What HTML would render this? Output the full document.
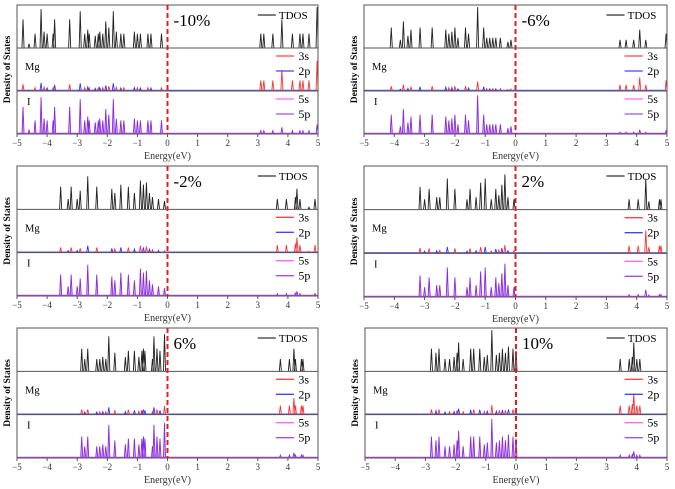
<!DOCTYPE html>
<html><head><meta charset="utf-8"><style>
body{margin:0;background:#fff}
svg{display:block;font-family:"Liberation Serif",serif}
</style></head><body>
<svg id="fig" width="675" height="489" viewBox="0 0 675 489"></svg>
<script>
// Data: [energy(eV), relative height] per strain panel (TDOS peaks)
const strainLabels = ["-10%","-6%","-2%","2%","6%","10%"];
const tdos_m10 = [[-4.8,0.7],[-4.6,0.1],[-4.4,0.35],[-4.2,0.95],[-4.1,0.4],[-4.0,0.35],[-3.8,0.35],[-3.75,0.7],[-3.25,0.7],[-2.9,0.9],[-2.75,0.35],[-2.65,0.45],[-2.6,0.35],[-2.4,0.3],[-2.3,0.35],[-2.25,0.4],[-2.15,0.35],[-2.05,0.65],[-1.95,0.5],[-1.8,0.9],[-1.7,0.4],[-1.55,0.35],[-1.45,0.35],[-1.1,0.4],[-1.0,0.35],[-0.9,0.35],[-0.65,0.35],[-0.55,0.35],[-0.2,0.35],[3.1,0.35],[3.2,0.35],[3.5,0.35],[3.8,0.7],[4.15,0.35],[4.4,0.35],[4.5,0.35],[4.7,0.35],[4.97,1.0]];
const tdos_m6 = [[-4.1,0.5],[-3.8,0.2],[-3.7,0.65],[-3.55,0.3],[-3.45,0.45],[-3.15,0.5],[-2.75,0.5],[-2.3,0.45],[-2.2,0.35],[-2.1,0.4],[-2.0,0.5],[-1.9,0.25],[-1.65,0.5],[-1.55,0.35],[-1.25,1.0],[-1.05,0.5],[-0.95,0.25],[-0.85,0.25],[-0.75,0.25],[-0.65,0.25],[-0.5,0.25],[-0.25,0.15],[-0.15,0.2],[3.45,0.2],[3.65,0.2],[3.9,0.2],[4.1,0.45],[4.3,0.2],[4.97,0.35]];
const tdos_m2 = [[-3.55,0.55],[-3.3,0.25],[-3.2,0.55],[-3.0,0.25],[-2.9,0.45],[-2.65,0.8],[-2.35,0.55],[-1.85,0.5],[-1.75,0.4],[-1.55,0.6],[-1.3,0.55],[-1.1,0.4],[-0.9,0.7],[-0.8,0.6],[-0.7,0.65],[-0.6,0.4],[-0.5,0.3],[-0.3,0.25],[-0.1,0.2],[3.65,0.25],[3.95,0.25],[4.25,0.3],[4.3,0.5],[4.4,0.25],[4.7,0.05],[4.9,0.25]];
const tdos_p2 = [[-3.15,0.55],[-3.0,0.25],[-2.85,0.5],[-2.6,0.3],[-2.5,0.3],[-2.25,0.75],[-2.0,0.5],[-1.6,0.25],[-1.5,0.5],[-1.3,0.3],[-1.15,0.65],[-1.0,0.75],[-0.8,0.25],[-0.65,0.5],[-0.55,0.35],[-0.45,0.6],[-0.35,0.85],[-0.25,0.3],[-0.05,0.25],[3.75,0.25],[4.05,0.25],[4.3,0.75],[4.4,0.2],[4.75,0.25],[4.8,0.25]];
const tdos_p6 = [[-2.85,0.55],[-2.75,0.3],[-2.65,0.55],[-2.35,0.3],[-2.25,0.3],[-2.15,0.35],[-2.05,0.3],[-1.95,0.85],[-1.75,0.45],[-1.4,0.35],[-1.3,0.5],[-1.1,0.5],[-0.95,0.35],[-0.85,0.5],[-0.8,0.55],[-0.75,0.5],[-0.5,0.3],[-0.45,0.85],[-0.35,0.55],[-0.25,0.5],[-0.1,0.9],[3.75,0.3],[4.05,0.3],[4.2,0.55],[4.25,0.3],[4.45,0.3],[4.5,0.3]];
const tdos_p10 = [[-2.8,0.55],[-2.65,0.45],[-2.55,0.55],[-2.35,0.3],[-2.2,0.3],[-2.05,0.35],[-1.95,0.45],[-1.9,0.7],[-1.75,0.3],[-1.5,0.55],[-1.4,0.55],[-1.2,0.55],[-1.05,0.35],[-0.95,0.4],[-0.8,1.0],[-0.65,0.4],[-0.55,0.45],[-0.45,0.55],[-0.35,0.45],[-0.25,0.6],[-0.1,0.55],[0.0,0.5],[3.45,0.3],[3.75,0.3],[3.85,0.35],[3.9,0.7],[4.0,0.3],[4.1,0.3]];
const xTicks = [-5,-4,-3,-2,-1,0,1,2,3,4,5];
const allTdos = [tdos_m10,tdos_m6,tdos_m2,tdos_p2,tdos_p6,tdos_p10];
const NS="http://www.w3.org/2000/svg";
const svg=document.getElementById('fig');
function el(tag,attrs,parent){const e=document.createElementNS(NS,tag);for(const k in attrs)e.setAttribute(k,attrs[k]);(parent||svg).appendChild(e);return e;}
const boxes=[[17,318,5,134],[364,667,5,134],[17,318,166,296],[364,667,166,297],[17,318,328,458],[365,667,328,458]];
function peakPath(xs,base,hgt,pk,scale,filter){
  let d="";
  pk.forEach(([e,v],k)=>{if(!filter(e,k))return;const x=xs(e),w=xs(e+0.035)-x;
    d+=`M${x-w},${base}L${x},${base-v*scale*hgt}L${x+w},${base}`;});
  return d||"M0,0";
}
boxes.forEach((b,i)=>{
  const [x0,x1,y0,y1]=b,data=allTdos[i];
  const g=el('g',{});
  
  
  const xs=e=>x0+(e+5)/10*(x1-x0);
  const h=(y1-y0)/3, b1=y0+h,b2=y0+2*h,b3=y1,w=x1-x0;
  const t=el('path',{d:peakPath(xs,b1,h,data,0.95,()=>true),stroke:'#222',fill:'none','stroke-width':0.9},g);
  
  const mb=el('line',{x1:x0,x2:x1,y1:b2-0.5,y2:b2-0.5,stroke:'#55f','stroke-width':1.4},g);
  
  const ms=el('path',{d:peakPath(xs,b2,h,data,0.22,(e,k)=>e<0.2&&k%2==0),stroke:'#f33',fill:'none','stroke-width':0.9},g);
  
  const mp=el('path',{d:peakPath(xs,b2,h,data,0.2,(e,k)=>e<0.2&&k%2==1),stroke:'#33f',fill:'none','stroke-width':0.9},g);
  
  const ms2=el('path',{d:peakPath(xs,b2,h,data,0.7,e=>e>0.5),stroke:'#f33',fill:'none','stroke-width':0.9},g);
  
  const ip=el('path',{d:peakPath(xs,b3,h,data,0.9,e=>e<0.2),stroke:'#8a2be2',fill:'#d6b8f5','stroke-width':0.9},g);
  
  const ip2=el('path',{d:peakPath(xs,b3,h,data,0.22,e=>e>0.5),stroke:'#8a2be2',fill:'none','stroke-width':0.9},g);
  
  const ib=el('line',{x1:x0,x2:x1,y1:b3-0.6,y2:b3-0.6,stroke:'#c040ff','stroke-width':1.3},g);
  
  const fr=el('rect',{x:x0,y:y0,width:w,height:y1-y0,fill:'none',stroke:'#555','stroke-width':1},g);
  
  [b1,b2].forEach(yy=>{const l=el('line',{x1:x0,x2:x1,y1:yy,y2:yy,stroke:'#555','stroke-width':1},g);
    });
  const f=el('line',{x1:xs(0),x2:xs(0),y1:y0,y2:y1,stroke:'#e02020','stroke-width':2,'stroke-dasharray':'5,3'},g);
  
  xTicks.forEach(v=>{const tx=xs(v);
    el('line',{x1:tx,x2:tx,y1:y1,y2:y1+3,stroke:'#555'},g);
    const tl=el('text',{x:tx,y:y1+12,'font-size':9,'text-anchor':'middle',fill:'#333'},g);
    tl.textContent=(v<0?'\u2212'+(-v):v);
    });
  const xl=el('text',{x:(x0+x1)/2,y:y1+25,'font-size':10,'text-anchor':'middle',fill:'#333'},g);
  xl.textContent='Energy(eV)';
  
  const yl=el('text',{x:0,y:0,'font-size':9.5,'font-weight':'bold','text-anchor':'middle',transform:`translate(${x0-7},${(y0+y1)/2}) rotate(-90)`},g);
  yl.textContent='Density of States';
  
  const sl=el('text',{x:xs(0)+6,y:y0+21,'font-size':17},g);
  sl.textContent=strainLabels[i];
  
  const mg=el('text',{x:x0+8,y:b1+22,'font-size':10.5},g);mg.textContent='Mg';
  
  const il=el('text',{x:x0+10,y:b2+14,'font-size':10.5},g);il.textContent='I';
  
  const leg=[['TDOS','#333',y0+10,0.8,0.87],['3s','#f44',b1+8,0.86,0.935],['2p','#44f',b1+23,0.86,0.935],['5s','#f6f',b2+8,0.86,0.935],['5p','#a050f0',b2+23,0.86,0.935]];
  leg.forEach(([n,c,ly,a,tx])=>{
    el('line',{x1:x0+a*w,x2:x0+(a+0.06)*w,y1:ly,y2:ly,stroke:c,'stroke-width':1.3},g);
    const lt=el('text',{x:x0+tx*w,y:ly+4,'font-size':n==='TDOS'?11:12},g);lt.textContent=n;
    
  });
});
</script>
</body></html>
